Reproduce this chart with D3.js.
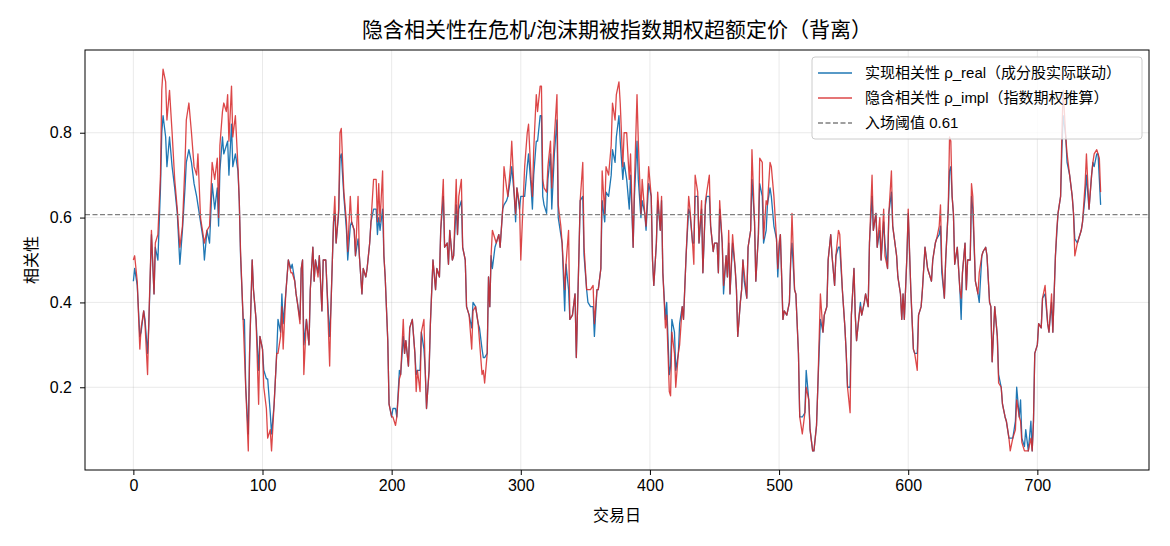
<!DOCTYPE html>
<html>
<head>
<meta charset="utf-8">
<script src="https://cdn.jsdelivr.net/npm/d3@7"></script>
<style>
  body { margin: 0; background: #fff; }
  svg { display: block; font-family: "Liberation Sans", "Noto Sans CJK SC", sans-serif; }
</style>
</head>
<body>
<svg id="chart" width="1170" height="546"></svg>
<script>
// trading days that were read off the picture (not every day)
var days = [
  0,1,3,5,6,8,9,11,12,14,16,17,19,21,22,23,25,26,28,30,
  32,34,36,38,40,41,43,45,47,49,50,52,54,55,57,59,61,63,65,66,
  67,69,70,72,73,74,76,77,79,81,82,83,85,86,87,89,90,92,93,95,
  97,98,100,101,103,104,106,107,109,111,112,114,115,116,118,120,122,123,125,126,
  127,129,130,131,132,134,136,137,139,140,141,143,144,146,147,149,150,152,153,155,
  156,157,159,160,161,163,165,166,168,169,171,172,174,175,177,178,180,181,183,184,
  186,188,189,190,191,193,194,195,197,198,200,201,203,204,206,207,209,210,211,213,
  214,216,218,219,220,222,223,225,226,227,229,230,232,234,235,237,238,240,241,243,
  244,245,247,248,250,251,252,254,255,257,258,260,262,263,265,267,268,270,271,272,
  274,275,276,277,278,280,281,283,284,286,287,289,290,292,293,295,296,297,299,300,
  302,303,305,306,308,309,310,312,313,315,316,317,318,320,321,323,324,326,328,329,
  331,332,334,335,337,338,340,342,343,345,346,348,349,351,352,354,356,357,359,360,
  362,363,365,366,368,370,371,373,374,376,377,379,380,382,384,385,387,388,390,391,
  393,394,396,397,399,401,402,403,405,406,408,409,410,412,413,415,416,417,419,420,
  422,423,425,426,428,430,431,433,434,435,437,438,440,441,443,444,446,447,449,450,
  452,453,454,456,457,459,460,461,462,464,466,467,468,470,471,472,473,475,476,478,
  479,481,482,484,485,487,488,490,491,493,494,496,498,499,500,501,503,504,506,508,
  509,510,512,513,515,516,518,520,521,523,524,526,527,529,530,532,534,535,537,538,
  540,541,543,544,546,547,549,551,552,553,555,556,558,559,560,562,563,564,566,567,
  569,570,572,573,575,576,578,579,581,582,584,585,587,588,591,592,594,595,596,597,
  599,600,602,604,605,607,608,610,611,613,615,616,618,619,621,622,624,625,626,628,
  629,631,632,633,634,635,636,638,640,641,642,644,645,646,648,649,650,652,654,655,
  657,658,660,661,663,664,665,667,669,670,672,673,675,676,678,679,681,683,684,686,
  687,688,690,691,693,695,696,697,698,700,701,703,704,706,708,709,711,712,714,715,
  716,718,719,720,722,723,725,727,728,729,731,732,734,735,737,738,740,742,743,744,746,747,748,749
];

// realised correlation (blue)
var rhoReal = [
  .45,.48,.44,.32,.33,.38,.36,.28,.35,.56,.42,.53,.50,.67,.80,.84,.79,.72,.79,.72,
  .67,.61,.49,.57,.67,.73,.76,.73,.68,.65,.63,.59,.55,.50,.57,.54,.68,.62,.67,.58,
  .71,.79,.75,.77,.78,.70,.82,.72,.75,.71,.64,.51,.36,.36,.20,.09,.28,.50,.43,.36,
  .24,.32,.29,.24,.22,.22,.14,.09,.16,.28,.36,.33,.42,.35,.42,.50,.48,.49,.45,.42,
  .40,.36,.48,.50,.30,.36,.30,.43,.53,.45,.50,.47,.51,.38,.50,.50,.43,.32,.39,.59,
  .61,.54,.61,.74,.75,.65,.57,.50,.58,.59,.57,.51,.55,.51,.42,.48,.46,.48,.54,.59,
  .62,.62,.56,.60,.57,.62,.51,.46,.31,.16,.13,.15,.15,.13,.24,.23,.32,.28,.31,.25,
  .34,.36,.28,.23,.24,.24,.33,.29,.24,.15,.24,.35,.50,.43,.48,.46,.57,.65,.53,.54,
  .49,.57,.50,.51,.63,.56,.62,.64,.53,.50,.39,.37,.34,.40,.39,.35,.34,.29,.27,.27,
  .28,.46,.39,.51,.48,.53,.54,.56,.53,.62,.63,.64,.65,.69,.72,.65,.59,.67,.62,.65,
  .65,.65,.72,.75,.67,.62,.70,.78,.78,.84,.84,.65,.63,.61,.69,.75,.62,.75,.83,.60,
  .56,.54,.38,.49,.43,.36,.37,.42,.27,.51,.64,.65,.51,.43,.40,.39,.39,.32,.43,.43,
  .48,.64,.59,.66,.65,.70,.76,.73,.79,.84,.78,.69,.73,.69,.62,.70,.53,.65,.78,.69,
  .60,.64,.61,.57,.68,.65,.50,.44,.54,.64,.57,.64,.47,.36,.40,.23,.25,.36,.33,.24,
  .28,.35,.39,.36,.51,.62,.61,.54,.54,.65,.65,.54,.62,.47,.63,.65,.65,.58,.52,.54,
  .54,.47,.62,.54,.42,.51,.46,.54,.42,.54,.48,.43,.32,.40,.43,.50,.45,.41,.53,.57,
  .69,.59,.45,.56,.68,.65,.54,.57,.63,.67,.65,.58,.55,.46,.52,.56,.36,.38,.37,.40,
  .50,.54,.43,.42,.28,.13,.13,.14,.24,.17,.10,.05,.05,.11,.20,.36,.33,.37,.39,.50,
  .56,.51,.44,.51,.53,.53,.43,.34,.28,.20,.20,.37,.48,.37,.31,.37,.40,.37,.40,.42,
  .39,.54,.65,.57,.61,.53,.57,.50,.59,.54,.48,.61,.66,.58,.51,.46,.42,.36,.42,.36,
  .51,.61,.43,.29,.28,.28,.37,.39,.43,.53,.48,.47,.45,.50,.54,.55,.56,.58,.47,.41,
  .50,.62,.71,.72,.65,.61,.49,.53,.43,.36,.47,.54,.43,.50,.50,.65,.62,.45,.42,.40,
  .51,.52,.53,.51,.40,.39,.26,.39,.32,.23,.20,.16,.13,.12,.08,.08,.08,.12,.20,.13,
  .17,.08,.06,.10,.05,.12,.05,.12,.28,.30,.35,.34,.41,.42,.35,.33,.40,.33,.51,.56,
  .61,.65,.76,.84,.79,.73,.70,.65,.61,.55,.54,.55,.57,.59,.65,.70,.62,.70,.73,.72,.75,.75,.69,.63
];

// implied correlation from index options (red)
var rhoImpl = [
  .50,.51,.45,.29,.34,.38,.35,.23,.36,.57,.42,.54,.56,.70,.90,.95,.92,.83,.90,.80,
  .69,.62,.53,.58,.73,.83,.87,.80,.72,.70,.75,.60,.56,.54,.57,.58,.73,.69,.74,.60,
  .77,.85,.87,.85,.89,.78,.91,.79,.84,.72,.64,.52,.36,.28,.20,.05,.28,.50,.43,.36,
  .16,.32,.29,.20,.15,.08,.10,.05,.16,.28,.28,.32,.39,.29,.42,.50,.47,.47,.45,.42,
  .40,.35,.48,.50,.23,.36,.30,.43,.53,.45,.50,.46,.51,.38,.50,.50,.43,.25,.39,.59,
  .65,.54,.62,.80,.81,.66,.59,.52,.65,.59,.57,.51,.65,.51,.42,.48,.46,.48,.54,.59,
  .69,.69,.59,.68,.59,.71,.51,.46,.31,.16,.13,.13,.11,.13,.22,.23,.36,.28,.31,.25,
  .34,.36,.28,.19,.24,.19,.33,.36,.24,.15,.24,.35,.50,.43,.48,.46,.57,.69,.53,.54,
  .49,.57,.50,.51,.69,.56,.65,.69,.53,.50,.39,.37,.29,.38,.39,.35,.31,.23,.24,.21,
  .28,.46,.39,.51,.57,.55,.54,.56,.53,.62,.72,.67,.65,.72,.78,.65,.61,.67,.63,.50,
  .65,.72,.80,.82,.69,.65,.76,.89,.85,.91,.91,.69,.67,.66,.72,.78,.67,.79,.89,.63,
  .58,.54,.43,.49,.57,.36,.37,.42,.27,.51,.64,.73,.53,.43,.43,.43,.44,.35,.43,.43,
  .48,.71,.61,.72,.70,.77,.87,.83,.89,.92,.87,.72,.80,.80,.69,.75,.53,.68,.89,.78,
  .61,.69,.61,.58,.72,.65,.50,.44,.54,.66,.57,.65,.47,.34,.37,.19,.18,.33,.28,.20,
  .28,.30,.39,.36,.51,.65,.62,.54,.49,.70,.66,.54,.64,.47,.64,.66,.70,.58,.52,.54,
  .54,.47,.64,.54,.44,.51,.46,.57,.42,.56,.48,.43,.32,.40,.43,.50,.47,.41,.53,.57,
  .76,.59,.45,.56,.74,.73,.55,.64,.63,.73,.72,.65,.55,.48,.54,.56,.36,.38,.37,.40,
  .50,.61,.43,.42,.28,.13,.09,.14,.20,.17,.10,.05,.05,.11,.20,.42,.33,.37,.39,.50,
  .56,.51,.44,.51,.57,.56,.43,.34,.28,.20,.14,.37,.48,.37,.31,.37,.39,.37,.40,.42,
  .39,.54,.70,.57,.61,.53,.60,.50,.62,.51,.48,.61,.71,.58,.51,.46,.42,.36,.42,.36,
  .51,.62,.43,.29,.28,.24,.37,.39,.43,.53,.48,.47,.45,.50,.54,.55,.58,.63,.49,.41,
  .50,.62,.79,.78,.65,.61,.49,.53,.43,.41,.47,.54,.43,.50,.50,.68,.65,.45,.42,.47,
  .51,.52,.53,.51,.40,.39,.26,.39,.32,.21,.20,.16,.13,.12,.08,.05,.08,.10,.17,.13,
  .12,.07,.05,.05,.05,.08,.05,.12,.28,.30,.35,.34,.41,.44,.35,.33,.42,.33,.51,.57,
  .61,.65,.80,.90,.79,.75,.70,.65,.61,.51,.54,.55,.57,.59,.68,.75,.62,.70,.73,.75,.76,.75,.74,.66
];

var threshold = 0.607;
var xTicks = [0, 100, 200, 300, 400, 500, 600, 700];
var yTicks = [0.2, 0.4, 0.6, 0.8];
var title = "隐含相关性在危机/泡沫期被指数期权超额定价（背离）";
var xLabel = "交易日";
var yLabel = "相关性";
var legendLabels = ["实现相关性 ρ_real（成分股实际联动）", "隐含相关性 ρ_impl（指数期权推算）", "入场阈值 0.61"];

var svgWidth = 1170;
var svgHeight = 546;
var margin = { top: 50, right: 21, bottom: 76, left: 85 };
var width = svgWidth - margin.left - margin.right;
var height = svgHeight - margin.top - margin.bottom;

var realPts = days.map(function (d, i) { return [d, rhoReal[i]]; });
var implPts = days.map(function (d, i) { return [d, rhoImpl[i]]; });

// matplotlib style 5% padding around the data
var xMin = d3.min(days), xMax = d3.max(days);
var xPad = (xMax - xMin) * 0.05;
var yMin = d3.min(rhoReal.concat(rhoImpl)), yMax = d3.max(rhoReal.concat(rhoImpl));
var yPad = (yMax - yMin) * 0.05;

var x = d3.scaleLinear().domain([xMin - xPad, xMax + xPad]).range([0, width]);
var y = d3.scaleLinear().domain([yMin - yPad, yMax + yPad]).range([height, 0]);

var svg = d3.select("#chart");
svg.append("rect").attr("width", svgWidth).attr("height", svgHeight).attr("fill", "#fff");

var g = svg.append("g").attr("transform", "translate(" + margin.left + "," + margin.top + ")");

// grid
g.append("g").selectAll("line").data(xTicks).enter().append("line")
    .attr("x1", function (d) { return x(d); }).attr("x2", function (d) { return x(d); })
    .attr("y1", 0).attr("y2", height)
    .attr("stroke", "#b0b0b0").attr("stroke-opacity", 0.3).attr("stroke-width", 0.9);
g.append("g").selectAll("line").data(yTicks).enter().append("line")
    .attr("y1", function (d) { return y(d); }).attr("y2", function (d) { return y(d); })
    .attr("x1", 0).attr("x2", width)
    .attr("stroke", "#b0b0b0").attr("stroke-opacity", 0.3).attr("stroke-width", 0.9);

var line = d3.line()
    .x(function (d) { return x(d[0]); })
    .y(function (d) { return y(d[1]); });

g.append("path").datum(realPts)
    .attr("d", line).attr("fill", "none")
    .attr("stroke", "#1f77b4").attr("stroke-width", 1.3).attr("stroke-linejoin", "round");

g.append("path").datum(implPts)
    .attr("d", line).attr("fill", "none")
    .attr("stroke", "#d62728").attr("stroke-opacity", 0.85).attr("stroke-width", 1.3).attr("stroke-linejoin", "round");

// threshold
g.append("line")
    .attr("x1", 0).attr("x2", width)
    .attr("y1", y(threshold)).attr("y2", y(threshold))
    .attr("stroke", "#808080").attr("stroke-width", 1.3).attr("stroke-dasharray", "5,2.5");

// axes
var xAxis = g.append("g")
    .attr("transform", "translate(0," + height + ")")
    .call(d3.axisBottom(x).tickValues(xTicks).tickSize(5).tickPadding(5).tickFormat(d3.format("d")));
var yAxis = g.append("g")
    .call(d3.axisLeft(y).tickValues(yTicks).tickSize(5).tickPadding(8).tickFormat(d3.format(".1f")));
[xAxis, yAxis].forEach(function (a) {
    a.select(".domain").remove();
    a.selectAll("line").attr("stroke", "#000").attr("stroke-width", 1);
    a.selectAll("text").attr("fill", "#000").style("font-size", "16px");
});

// frame
g.append("rect").attr("width", width).attr("height", height)
    .attr("fill", "none").attr("stroke", "#000").attr("stroke-width", 1);

// texts
svg.append("text")
    .attr("x", margin.left + width / 2).attr("y", 37)
    .attr("text-anchor", "middle").style("font-size", "21px")
    .text(title);
svg.append("text")
    .attr("x", margin.left + width / 2).attr("y", 521)
    .attr("text-anchor", "middle").style("font-size", "16px")
    .text(xLabel);
svg.append("text")
    .attr("transform", "translate(37," + (margin.top + height / 2) + ") rotate(-90)")
    .attr("text-anchor", "middle").style("font-size", "16px")
    .text(yLabel);

// legend
var lg = svg.append("g").attr("transform", "translate(812,57)");
lg.append("rect").attr("width", 330).attr("height", 82).attr("rx", 3)
    .attr("fill", "#fff").attr("fill-opacity", 0.8)
    .attr("stroke", "#cccccc").attr("stroke-width", 1);
var legendStyles = [
    { color: "#1f77b4", opacity: 1, dash: null },
    { color: "#d62728", opacity: 0.85, dash: null },
    { color: "#808080", opacity: 1, dash: "5,2.5" }
];
legendLabels.forEach(function (t, i) {
    var ry = 16 + i * 25;
    lg.append("line").attr("x1", 6).attr("x2", 40).attr("y1", ry).attr("y2", ry)
        .attr("stroke", legendStyles[i].color).attr("stroke-opacity", legendStyles[i].opacity)
        .attr("stroke-width", 1.3).attr("stroke-dasharray", legendStyles[i].dash);
    lg.append("text").attr("x", 53).attr("y", ry + 5).style("font-size", "15px").text(t);
});
</script>
</body>
</html>
